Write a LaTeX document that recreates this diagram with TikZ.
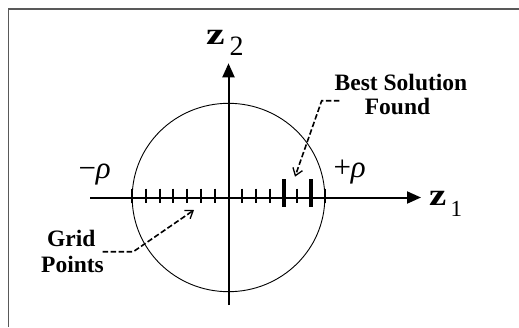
\documentclass[tikz,border=0pt]{standalone}
\usepackage{fontspec}
\setmainfont{Liberation Serif}
\usetikzlibrary{arrows.meta}
\begin{document}
\begin{tikzpicture}[x=1pt,y=-1pt,
  lbl/.style={inner sep=0pt, outer sep=0pt, anchor=base west},
  txt/.style={inner sep=0pt, outer sep=0pt, anchor=base, font=\fontsize{23.5}{23.5}\selectfont\bfseries},
  axisline/.style={line width=2pt, -{Triangle[length=14pt,width=12pt]}},
  tk/.style={line width=2pt},
  tkb/.style={line width=4pt},
  callout/.style={line width=1.6pt, dash pattern=on 5.5pt off 2.5pt, -{Straight Barb[length=7pt,width=10pt,line width=1.3pt]}},
]
\useasboundingbox (0,0) rectangle (519,327);
\draw[black!65, line width=1.2pt] (8.5,327) -- (8.5,9) -- (519,9);
\coordinate (O) at (228.5,197.5);
\draw[line width=0.9pt] (O) ellipse [x radius=96.3, y radius=94.2];
% axes
\coordinate (xl) at (90,197.5);
\coordinate (xr) at (421,197.5);
\coordinate (yb) at (228.5,305);
\coordinate (yt) at (228.5,63.3);
\draw[axisline] (xl) -- (xr);
\draw[axisline] (yb) -- (yt);
% ticks
\foreach \i in {-7,-6,-5,-4,-3,-2,-1,1,2,3,5,7}
  \draw[tk] ({228.5+\i*13.757},188.7) -- ({228.5+\i*13.757},203.3);
\foreach \i in {4,6}
  \draw[tkb] ({228.5+\i*13.757},179.3) -- ({228.5+\i*13.757},207.3);
% axis labels
\node[lbl, font=\fontsize{31}{31}\selectfont\bfseries] (z2) at (206,44) {\scalebox{1.35}[1]{z}};
\node[lbl, font=\fontsize{28}{28}\selectfont] (s2) at (229.5,55) {2};
\node[lbl, font=\fontsize{31}{31}\selectfont\bfseries] (z1) at (429,205) {\scalebox{1.25}[1]{z}};
\node[lbl, font=\fontsize{23}{23}\selectfont] (s1) at (450.5,216) {1};
\node[lbl, font=\fontsize{31}{31}\selectfont] (mrho) at (78.5,178.5) {−\textit{ρ}};
\node[lbl, font=\fontsize{31}{31}\selectfont] (prho) at (333.5,177.5) {+\textit{ρ}};
% callout texts
\node[txt] (best) at (401,90) {Best Solution};
\node[txt] (found) at (397.5,114.3) {Found};
\node[txt] (grid) at (71.3,246.5) {Grid};
\node[txt] (points) at (72.5,272.7) {Points};
% callout arrows
\coordinate (bsA) at (339.3,100.7);
\coordinate (bsB) at (321.7,100.7);
\coordinate (bsC) at (295,176.7);
\draw[callout] (bsA) -- (bsB) -- (bsC);
\coordinate (gpA) at (102.7,251.7);
\coordinate (gpB) at (133.3,251.7);
\coordinate (gpC) at (194,210);
\draw[callout] (gpA) -- (gpB) -- (gpC);
\end{tikzpicture}
\end{document}
